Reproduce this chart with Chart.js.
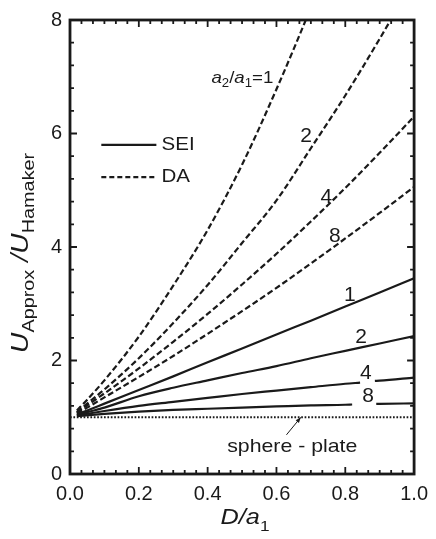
<!DOCTYPE html>
<html>
<head>
<meta charset="utf-8">
<script src="https://cdn.jsdelivr.net/npm/chart.js@4.4.1/dist/chart.umd.min.js"></script>
<style>
    html, body { margin: 0; padding: 0; background: #fff; }
    #wrap { width: 436px; height: 539px; position: relative; }
</style>
</head>
<body>
<div id="wrap"><canvas id="chart"></canvas></div>
<script>
// D/a1 sample points
const dPoints = [0.02, 0.05, 0.1, 0.2, 0.3, 0.4, 0.5, 0.6, 0.7, 0.8, 0.9, 1.0];

// DA curves (a2/a1 = 1, 2, 4, 8)
const daRatio1 = [1.12, 1.31, 1.65, 2.42, 3.32, 4.30, 5.45, 6.78, 8.22, 9.77, 11.44, 13.24];
const daRatio2 = [1.09, 1.24, 1.49, 2.04, 2.66, 3.33, 4.07, 4.82, 5.74, 6.67, 7.67, 8.72];
const daRatio4 = [1.08, 1.21, 1.42, 1.86, 2.33, 2.82, 3.34, 3.88, 4.45, 5.04, 5.66, 6.30];
const daRatio8 = [1.07, 1.17, 1.35, 1.71, 2.08, 2.47, 2.87, 3.28, 3.71, 4.15, 4.60, 5.06];

// SEI curves
const seiRatio1 = [1.05, 1.12, 1.24, 1.48, 1.72, 1.97, 2.21, 2.46, 2.70, 2.95, 3.20, 3.45];
const seiRatio2 = [1.04, 1.09, 1.17, 1.37, 1.52, 1.65, 1.78, 1.90, 2.04, 2.17, 2.30, 2.43];
// 4 and 8 have a break where the number sits on the line
const dPointsSei4 = [0.02, 0.1, 0.2, 0.3, 0.4, 0.5, 0.6, 0.7, 0.8, 0.843, 0.865, 0.886, 0.9, 1.0];
const seiRatio4 = [1.03, 1.11, 1.20, 1.27, 1.34, 1.41, 1.47, 1.53, 1.59, 1.61, null, 1.64, 1.645, 1.70];
const dPointsSei8 = [0.02, 0.1, 0.2, 0.3, 0.4, 0.5, 0.6, 0.7, 0.8, 0.82, 0.855, 0.89, 0.9, 1.0];
const seiRatio8 = [1.02, 1.06, 1.10, 1.13, 1.15, 1.17, 1.19, 1.21, 1.22, 1.225, null, 1.235, 1.236, 1.245];

// sphere - plate reference
const dSpherePlate = [0, 1];
const uSpherePlate = [1, 1];

// axis ticks
const xTickStep = 0.2;
const yTickStep = 2;

const FONT = '"Liberation Sans", Arial, Helvetica, sans-serif';
const INK = '#1a1a1a';

function toXY(xs, ys) {
    return xs.map((x, i) => ({x: x, y: ys[i]}));
}

function curve(xs, ys, dash, width) {
    return {
        data: toXY(xs, ys),
        borderColor: INK,
        borderWidth: width || 2.2,
        borderDash: dash,
        borderCapStyle: 'butt',
        showLine: true,
        pointRadius: 0,
        cubicInterpolationMode: 'monotone',
        spanGaps: false
    };
}

function richWidth(ctx, parts) {
    let w = 0;
    parts.forEach(p => { ctx.font = p.font; w += ctx.measureText(p.text).width; });
    return w;
}

// draws text pieces (main text + subscripts) left to right, stretched sideways by sx
function drawRich(ctx, parts, x, y, sx) {
    ctx.save();
    ctx.translate(x, y);
    ctx.scale(sx, 1);
    let cx = 0;
    parts.forEach(p => {
        ctx.font = p.font;
        ctx.fillText(p.text, cx, p.dy || 0);
        cx += ctx.measureText(p.text).width;
    });
    ctx.restore();
}

// single label centred (or left aligned) at x, y
function drawLabel(ctx, text, x, y, sx, align) {
    const w = ctx.measureText(text).width * sx;
    const left = align === 'left' ? x : x - w / 2;
    ctx.save();
    ctx.translate(left, y);
    ctx.scale(sx, 1);
    ctx.textAlign = 'left';
    ctx.fillText(text, 0, 0);
    ctx.restore();
}

// frame, inward ticks and annotations
const annotations = {
    id: 'annotations',
    afterDraw(chart) {
        const ctx = chart.ctx;
        const xs = chart.scales.x, ys = chart.scales.y;
        const a = chart.chartArea;
        const px = v => xs.getPixelForValue(v);
        const py = v => ys.getPixelForValue(v);

        ctx.save();
        ctx.strokeStyle = INK;
        ctx.fillStyle = INK;

        // ticks on all four sides
        ctx.lineWidth = 1.8;
        ctx.beginPath();
        for (let j = 0; j <= 30; j++) {
            const x = px(j / 30);
            const len = j % 6 === 0 ? 7 : 4;
            ctx.moveTo(x, a.bottom); ctx.lineTo(x, a.bottom - len);
            ctx.moveTo(x, a.top); ctx.lineTo(x, a.top + len);
        }
        for (let j = 0; j <= 20; j++) {
            const y = py(j * 0.4);
            const len = j % 5 === 0 ? 7 : 4;
            ctx.moveTo(a.left, y); ctx.lineTo(a.left + len, y);
            ctx.moveTo(a.right, y); ctx.lineTo(a.right - len, y);
        }
        ctx.stroke();

        // frame
        ctx.lineWidth = 2.8;
        ctx.strokeRect(a.left, a.top, a.right - a.left, a.bottom - a.top);

        // legend
        ctx.lineWidth = 2.2;
        ctx.setLineDash([]);
        ctx.beginPath();
        ctx.moveTo(px(0.091), py(5.80)); ctx.lineTo(px(0.251), py(5.80));
        ctx.stroke();
        ctx.setLineDash([5, 3]);
        ctx.beginPath();
        ctx.moveTo(px(0.091), py(5.23)); ctx.lineTo(px(0.251), py(5.23));
        ctx.stroke();
        ctx.setLineDash([]);
        ctx.font = '19px ' + FONT;
        ctx.textBaseline = 'middle';
        drawLabel(ctx, 'SEI', px(0.266), py(5.80), 1.08, 'left');
        drawLabel(ctx, 'DA', px(0.266), py(5.23), 1.08, 'left');

        // curve numbers
        ctx.font = '20px ' + FONT;
        [['2', 0.686, 5.94], ['4', 0.745, 4.88], ['8', 0.770, 4.18],
         ['1', 0.813, 3.15], ['2', 0.846, 2.41], ['4', 0.860, 1.78], ['8', 0.866, 1.36]]
            .forEach(l => drawLabel(ctx, l[0], px(l[1]), py(l[2]), 1.05));

        // a2/a1=1
        ctx.textBaseline = 'alphabetic';
        drawRich(ctx, [
            {text: 'a', font: 'italic 17px ' + FONT},
            {text: '2', font: '12px ' + FONT, dy: 4},
            {text: '/', font: '17px ' + FONT},
            {text: 'a', font: 'italic 17px ' + FONT},
            {text: '1', font: '12px ' + FONT, dy: 4},
            {text: '=1', font: '17px ' + FONT}
        ], px(0.411), py(6.89), 1.1);

        // sphere - plate label with arrow
        ctx.textBaseline = 'middle';
        ctx.font = '19px ' + FONT;
        drawLabel(ctx, 'sphere - plate', px(0.646), py(0.48), 1.12);
        const x0 = px(0.629), y0 = py(0.69), x1 = px(0.671), y1 = py(1.0);
        ctx.lineWidth = 1;
        ctx.beginPath();
        ctx.moveTo(x0, y0); ctx.lineTo(x1, y1);
        ctx.stroke();
        const ang = Math.atan2(y1 - y0, x1 - x0);
        ctx.beginPath();
        ctx.moveTo(x1, y1);
        ctx.lineTo(x1 - 6 * Math.cos(ang - 0.35), y1 - 6 * Math.sin(ang - 0.35));
        ctx.lineTo(x1 - 6 * Math.cos(ang + 0.35), y1 - 6 * Math.sin(ang + 0.35));
        ctx.closePath();
        ctx.fill();

        // x axis title
        ctx.textBaseline = 'alphabetic';
        const xTitle = [
            {text: 'D/a', font: 'italic 22px ' + FONT},
            {text: '1', font: '15px ' + FONT, dy: 7}
        ];
        const xStretch = 1.15;
        drawRich(ctx, xTitle, 245 - richWidth(ctx, xTitle) * xStretch / 2, 524, xStretch);

        // y axis title
        const yTitle = [
            {text: 'U', font: 'italic 23px ' + FONT},
            {text: 'Approx', font: '16px ' + FONT, dy: 6},
            {text: ' /', font: 'italic 23px ' + FONT},
            {text: 'U', font: 'italic 23px ' + FONT},
            {text: 'Hamaker', font: '16px ' + FONT, dy: 6}
        ];
        const yStretch = 1.24;
        ctx.translate(28, 253);
        ctx.rotate(-Math.PI / 2);
        drawRich(ctx, yTitle, -richWidth(ctx, yTitle) * yStretch / 2, 0, yStretch);

        ctx.restore();
    }
};

function createChart() {
    const ctx = document.getElementById('chart').getContext('2d');
    return new Chart(ctx, {
        type: 'scatter',
        data: {
            datasets: [
                curve(dPoints, daRatio1, [6, 3]),
                curve(dPoints, daRatio2, [6, 3]),
                curve(dPoints, daRatio4, [6, 3]),
                curve(dPoints, daRatio8, [6, 3]),
                curve(dPoints, seiRatio1, []),
                curve(dPoints, seiRatio2, []),
                curve(dPointsSei4, seiRatio4, []),
                curve(dPointsSei8, seiRatio8, []),
                curve(dSpherePlate, uSpherePlate, [1.7, 1.7], 1.8)
            ]
        },
        options: {
            responsive: true,
            maintainAspectRatio: false,
            animation: false,
            layout: { padding: { top: 20, right: 16, left: 0, bottom: 0 } },
            plugins: {
                legend: { display: false },
                tooltip: { enabled: false }
            },
            scales: {
                x: {
                    type: 'linear',
                    min: 0,
                    max: 1,
                    grid: { display: false, drawTicks: false },
                    border: { display: false },
                    ticks: {
                        stepSize: xTickStep,
                        padding: 8,
                        maxRotation: 0,
                        color: INK,
                        font: { family: FONT, size: 20 },
                        callback: v => v.toFixed(1)
                    },
                    afterFit: s => { s.height = 65; }
                },
                y: {
                    type: 'linear',
                    min: 0,
                    max: 8,
                    grid: { display: false, drawTicks: false },
                    border: { display: false },
                    ticks: {
                        stepSize: yTickStep,
                        padding: 8,
                        color: INK,
                        font: { family: FONT, size: 20 },
                        callback: v => String(v)
                    },
                    afterFit: s => { s.width = 70; }
                }
            }
        },
        plugins: [annotations]
    });
}

createChart();
</script>
</body>
</html>
